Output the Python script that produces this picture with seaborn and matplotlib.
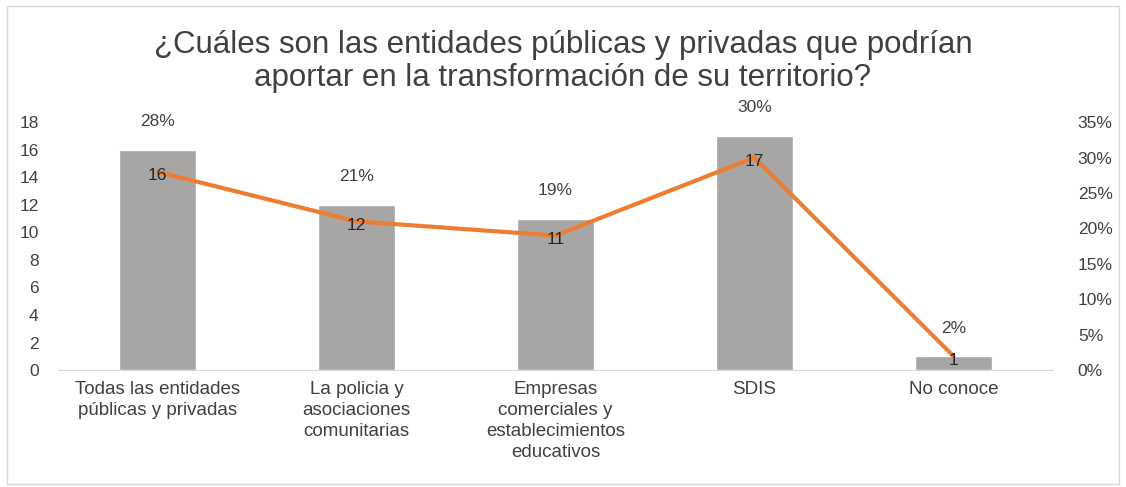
import matplotlib
matplotlib.use("Agg")
import matplotlib.pyplot as plt
import seaborn as sns
import pandas as pd
from matplotlib.patches import Rectangle

categorias = ["Todas las entidades\npúblicas y privadas",
              "La policia y\nasociaciones\ncomunitarias",
              "Empresas\ncomerciales y\nestablecimientos\neducativos",
              "SDIS",
              "No conoce"]
conteos = [16, 12, 11, 17, 1]
porcentajes = [0.28, 0.21, 0.19, 0.30, 0.02]
titulo = "¿Cuáles son las entidades públicas y privadas que podrían\naportar en la transformación de su territorio?"

df = pd.DataFrame({"categoria": categorias, "conteo": conteos, "pct": porcentajes})

sns.set_style("white")
plt.rcParams["font.family"] = ["Liberation Sans", "DejaVu Sans"]
txt = "#404040"

fig = plt.figure(figsize=(11.26, 4.87), dpi=100)
ax = fig.add_axes([0.0515, 0.240, 0.8835, 0.509])
sns.barplot(data=df, x="categoria", y="conteo", color="#a8a5a5", width=0.39,
            saturation=1, ax=ax)
ax.set_ylim(0, 18)
ax.set_yticks(range(0, 19, 2))
ax.set_xlim(-0.5, len(categorias) - 0.5)
ax.set_xlabel("")
ax.set_ylabel("")
for s in ["top", "right", "left"]:
    ax.spines[s].set_visible(False)
ax.spines["bottom"].set_color("#d9d9d9")
ax.tick_params(axis="both", length=0, labelsize=12.5, colors=txt, pad=8)
ax.tick_params(axis="y", pad=14)
for lbl in ax.get_xticklabels():
    lbl.set_fontsize(13.5)
    lbl.set_linespacing(1.3)

ax2 = ax.twinx()
sns.lineplot(x=list(range(len(categorias))), y=porcentajes, color="#ed7d31",
             linewidth=3, ax=ax2)
ax2.set_ylim(0, 0.35)
ax2.set_yticks([i / 100 for i in range(0, 36, 5)])
ax2.set_yticklabels([f"{i}%" for i in range(0, 36, 5)])
for s in ["top", "right", "left", "bottom"]:
    ax2.spines[s].set_visible(False)
ax2.tick_params(axis="y", length=0, labelsize=12.5, colors=txt, pad=18)

for i, (c, p) in enumerate(zip(conteos, porcentajes)):
    ax.annotate(f"{round(p * 100)}%", (i, c), xytext=(0, 15), textcoords="offset points",
                ha="center", va="bottom", fontsize=12.5, color=txt)
    ax2.annotate(str(c), (i, p), ha="center", va="center", fontsize=12.5,
                 color="#262626", xytext=(0, -3), textcoords="offset points")

fig.text(0.5, 0.874, titulo, ha="center", va="center", fontsize=22.5,
         color=txt, linespacing=1.1)
fig.patches.append(Rectangle((0.006, 0.006), 0.988, 0.982, transform=fig.transFigure,
                             fill=False, edgecolor="#d9d9d9", linewidth=1))

fig.savefig("out.png", dpi=100)
